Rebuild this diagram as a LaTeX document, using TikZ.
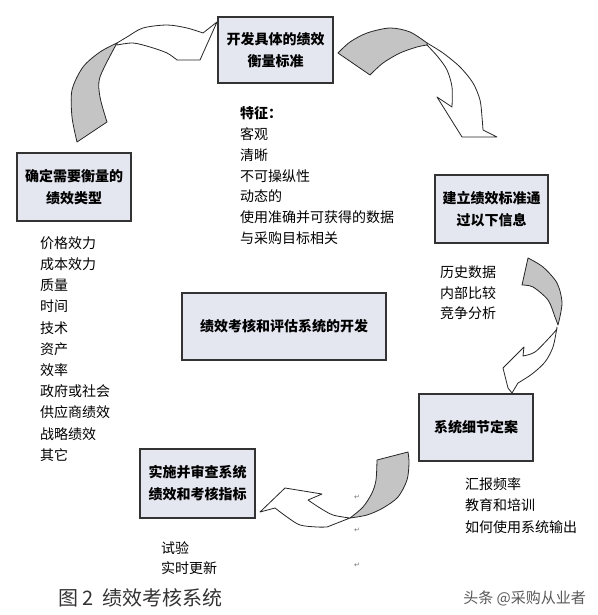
\documentclass[tikz,border=0pt]{standalone}
\usepackage{fontspec}
\setmainfont{Noto Sans CJK SC}
\newfontfamily\symfont{DejaVu Sans}
\definecolor{boxfill}{HTML}{E4E6F0}
\definecolor{rib}{HTML}{C4C4C4}
\begin{document}
\begin{tikzpicture}[x=1pt,y=-1pt,
  box/.style={draw=black!80, line width=1.3pt, fill=boxfill,
    font=\bfseries\fontsize{14}{22}\selectfont, align=center, inner sep=0},
  item/.style={anchor=west, inner sep=0, font=\fontsize{14}{16}\selectfont},
  ribw/.style={draw=black!85, line width=0.8pt, fill=white, line join=round},
  ribg/.style={draw=black!85, line width=0.8pt, fill=rib, line join=round},
  ret/.style={inner sep=0, font=\symfont\fontsize{7}{8}\selectfont, text=black!55}]
\useasboundingbox (0,0) rectangle (597,615);

% ---------- ribbon arrows ----------
% top-left arrow (left box -> top box)
\draw[ribw] (117,44) -- plot[smooth] coordinates {(117,43) (127,37) (143,28) (167,25) (187,28) (203,33)}
  -- (217,22) -- (200,60) -- (177,60)
  -- plot[smooth] coordinates {(177,60) (167,53) (150,47) (133,43) (117,45)} -- cycle;
\draw[ribg] plot[smooth] coordinates {(77,142) (72,117) (72,90) (83,67) (100,52) (117,43)}
  -- plot[smooth] coordinates {(117,43) (100,77) (100,97) (107,122)} -- cycle;

% top-right arrow (top box -> right box)
\draw[ribw] plot[smooth] coordinates {(427,43) (443,53) (460,67) (473,83) (480,100) (482,117) (483,130)}
  -- (497,137) -- (462,137) -- (437,97) -- (452,107)
  -- plot[smooth] coordinates {(452,107) (452,87) (447,70) (438,57) (427,45)} -- cycle;
\draw[ribg] plot[smooth] coordinates {(338,53) (350,42) (367,33) (390,28) (410,32) (427,43)}
  -- plot[smooth] coordinates {(427,45) (417,47) (400,53) (383,63) (370,75)} -- cycle;

% right arrow (right box -> bottom-right box)
\draw[ribw] plot[smooth] coordinates {(557,327) (553,347) (545,362) (532,374) (518,383)}
  -- (512,393) -- (508,388) -- (503,368) -- (524,347) -- (523,356)
  -- plot[smooth] coordinates {(523,356) (535,352) (550,337) (557,329)} -- cycle;
\draw[ribg] plot[smooth] coordinates {(528,258) (543,267) (557,283) (562,303) (558,325)}
  -- plot[smooth] coordinates {(558,325) (555,317) (548,300) (533,287) (522,285)} -- cycle;

% bottom arrow (bottom-right box -> bottom-left box)
\draw[ribw] plot[smooth] coordinates {(350,518) (333,515) (320,508) (308,500)}
  -- (322,494) -- (285,488) -- (260,512) -- (275,508)
  -- plot[smooth] coordinates {(275,508) (287,517) (300,525) (317,527) (327,527)} -- cycle;
\draw[ribg] (377,460) -- (408,452)
  -- plot[smooth] coordinates {(408,452) (409,463) (407,480) (398,497) (383,508) (367,515) (350,518)}
  -- plot[smooth] coordinates {(350,518) (363,507) (372,493) (376,480) (377,460)} -- cycle;

% ---------- boxes ----------
\node[box, minimum width=115pt, minimum height=66pt] (top) at (275.5,50) {开发具体的绩效\\衡量标准};
\node[box, minimum width=114pt, minimum height=68pt] (left) at (74,187) {确定需要衡量的\\绩效类型};
\node[box, minimum width=113pt, minimum height=68pt] (right) at (491.5,209) {建立绩效标准通\\过以下信息};
\node[box, minimum width=204pt, minimum height=67pt] (center) at (284,326.5) {绩效考核和评估系统的开发};
\node[box, minimum width=114pt, minimum height=67pt] (bright) at (476,427.5) {系统细节定案};
\node[box, minimum width=115pt, minimum height=69pt] (bleft) at (197.5,483.5) {实施并审查系统\\绩效和考核指标};

% ---------- lists ----------
\node[item, font=\bfseries\fontsize{14}{16}\selectfont] (f0) at (240,113) {特征：};
\foreach \t [count=\i] in {客观,清晰,不可操纵性,动态的,使用准确并可获得的数据,与采购目标相关}
  \node[item] (f\i) at (240,{113+20.9*\i}) {\t};

\foreach \t [count=\i from 0] in {价格效力,成本效力,质量,时间,技术,资产,效率,政府或社会,供应商绩效,战略绩效,其它}
  \node[item] (l\i) at (40,{243+21.2*\i}) {\t};

\foreach \t [count=\i from 0] in {历史数据,内部比较,竞争分析}
  \node[item] (r\i) at (440,{272+20.7*\i}) {\t};

\foreach \t [count=\i from 0] in {汇报频率,教育和培训,如何使用系统输出}
  \node[item] (s\i) at (465,{484+21.5*\i}) {\t};

\foreach \t [count=\i from 0] in {试验,实时更新}
  \node[item] (b\i) at (161,{548+20*\i}) {\t};

% paragraph marks
\node[ret] (p1) at (357,497) {↵};
\node[ret] (p2) at (357,530) {↵};
\node[ret] (p3) at (357,565) {↵};

% caption and watermark
\node[anchor=west, inner sep=0, font=\fontsize{20}{22}\selectfont, text=black!80] (cap) at (58,598) {图 2\ \ 绩效考核系统};
\node[anchor=east, inner sep=0, font=\fontsize{15}{17}\selectfont, text=black!65] (wm) at (586,598) {头条 @采购从业者};
\end{tikzpicture}
\end{document}
